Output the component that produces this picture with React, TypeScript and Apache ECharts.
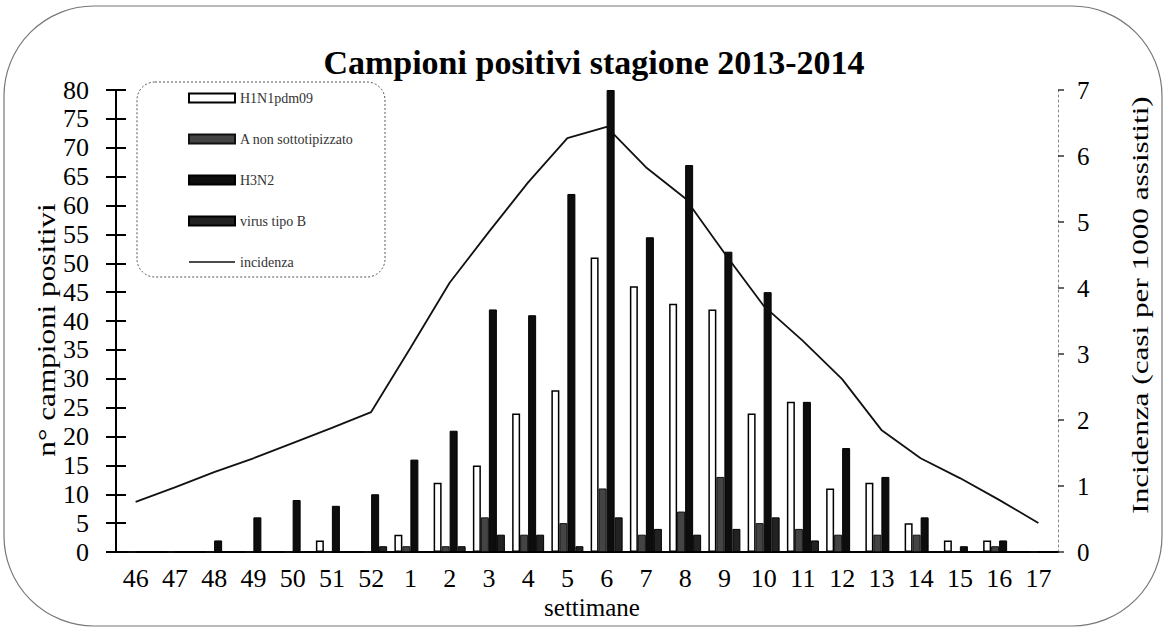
import React, { useEffect, useRef } from "react";
import * as echarts from "echarts";

const weeks = ["46","47","48","49","50","51","52","1","2","3","4","5","6","7","8","9","10","11","12","13","14","15","16","17"];
const h1n1 = [0,0,0,0,0,2,0,3,12,15,24,28,51,46,43,42,24,26,11,12,5,2,2,0];
const aNonSott = [0,0,0,0,0,0,0,1,1,6,3,5,11,3,7,13,5,4,3,3,3,0,1,0];
const h3n2 = [0,0,2,6,9,8,10,16,21,42,41,62,80,54.5,67,52,45,26,18,13,6,1,2,0];
const virusB = [0,0,0,0,0,0,1,0,1,3,3,1,6,4,3,4,6,2,0,0,0,0,0,0];
const incidenza = [0.76,0.98,1.21,1.42,1.65,1.88,2.12,3.09,4.08,4.85,5.6,6.27,6.44,5.83,5.36,4.53,3.73,3.2,2.62,1.85,1.42,1.12,0.79,0.44];

const seriesNames = ["H1N1pdm09", "A non sottotipizzato", "H3N2", "virus tipo B", "incidenza"];
const leftAxis = { min: 0, max: 80, interval: 5 };
const rightAxis = { min: 0, max: 7, interval: 1 };

const SERIF = "Liberation Serif";

export default function App() {
  const ref = useRef<HTMLDivElement>(null);
  useEffect(() => {
    if (!ref.current) return;
    const chart = echarts.init(ref.current, undefined, { renderer: "svg" });
    const barBase = { type: "bar", xAxisIndex: 0, yAxisIndex: 0, barWidth: 8, barGap: "0%" };
    chart.setOption({
      animation: false,
      backgroundColor: "#fff",
      textStyle: { fontFamily: SERIF },
      grid: { left: 116, right: 109, top: 90, bottom: 81 },
      legend: {
        orient: "vertical",
        left: 183,
        top: 86,
        itemWidth: 46,
        itemHeight: 9,
        itemGap: 27,
        textStyle: { fontFamily: SERIF, fontSize: 14, color: "#333" },
        data: [
          { name: seriesNames[0], icon: "rect" },
          { name: seriesNames[1], icon: "rect" },
          { name: seriesNames[2], icon: "rect" },
          { name: seriesNames[3], icon: "rect" },
          { name: seriesNames[4], icon: "path://M0,0 L46,0 L46,1.6 L0,1.6 Z" },
        ],
      },
      xAxis: [
        {
          type: "category",
          data: weeks,
          position: "bottom",
          axisLine: { lineStyle: { color: "#000", width: 2 } },
          axisTick: { length: 10, lineStyle: { color: "#000", width: 2 } },
          axisLabel: { fontFamily: SERIF, fontSize: 26, color: "#000", margin: 13, interval: 0 },
        },
        {
          type: "category",
          data: weeks,
          position: "bottom",
          axisLine: { show: false },
          axisTick: { inside: true, length: 9, lineStyle: { color: "#000", width: 2 } },
          axisLabel: { show: false },
        },
      ],
      yAxis: [
        {
          type: "value",
          position: "left",
          ...leftAxis,
          axisLine: { show: true, lineStyle: { color: "#000", width: 2 } },
          axisTick: { show: true, length: 10, lineStyle: { color: "#000", width: 2 } },
          axisLabel: { fontFamily: SERIF, fontSize: 26, color: "#000", margin: 27 },
          splitLine: { show: false },
        },
        {
          type: "value",
          position: "left",
          ...leftAxis,
          axisLine: { show: false },
          axisTick: { show: true, inside: true, length: 10, lineStyle: { color: "#000", width: 2 } },
          axisLabel: { show: false },
          splitLine: { show: false },
        },
        {
          type: "value",
          position: "right",
          ...rightAxis,
          axisLine: { show: true, lineStyle: { color: "#888", width: 1, type: [2, 3] } },
          axisTick: { show: true, length: 6, lineStyle: { color: "#333", width: 1.5 } },
          axisLabel: { fontFamily: SERIF, fontSize: 25, color: "#000", margin: 19 },
          splitLine: { show: false },
        },
      ],
      series: [
        { ...barBase, name: seriesNames[0], data: h1n1, itemStyle: { color: "#fff", borderColor: "#000", borderWidth: 1.5 } },
        { ...barBase, name: seriesNames[1], data: aNonSott, itemStyle: { color: "#444", borderColor: "#111", borderWidth: 1 } },
        { ...barBase, name: seriesNames[2], data: h3n2, itemStyle: { color: "#0d0d0d", borderColor: "#000", borderWidth: 1 } },
        { ...barBase, name: seriesNames[3], data: virusB, itemStyle: { color: "#222", borderColor: "#000", borderWidth: 1 } },
        {
          type: "line",
          name: seriesNames[4],
          xAxisIndex: 0,
          yAxisIndex: 2,
          data: incidenza,
          symbol: "none",
          lineStyle: { color: "#111", width: 1.8 },
          itemStyle: { color: "#111" },
        },
      ],
      graphic: [
        {
          type: "rect",
          shape: { x: 4, y: 6, width: 1158, height: 620, r: 90 },
          style: { fill: "none", stroke: "#777", lineWidth: 1.2 },
          silent: true,
        },
        {
          type: "rect",
          shape: { x: 137, y: 82, width: 248, height: 195, r: 18 },
          style: { fill: "none", stroke: "#555", lineWidth: 1, lineDash: [2, 2] },
          silent: true,
        },
        {
          type: "text",
          x: 594,
          y: 62,
          style: { text: "Campioni positivi stagione 2013-2014", fontFamily: SERIF, fontWeight: "bold", fontSize: 34, fill: "#000", align: "center", verticalAlign: "middle" },
        },
        {
          type: "text",
          x: 46,
          y: 330,
          rotation: Math.PI / 2,
          scaleX: 1.2,
          style: { text: "n° campioni positivi", fontFamily: SERIF, fontSize: 26, fill: "#000", align: "center", verticalAlign: "middle" },
        },
        {
          type: "text",
          x: 1140,
          y: 305,
          rotation: Math.PI / 2,
          scaleX: 1.3,
          style: { text: "Incidenza (casi per 1000 assistiti)", fontFamily: SERIF, fontSize: 24, fill: "#000", align: "center", verticalAlign: "middle" },
        },
        {
          type: "text",
          x: 592,
          y: 607,
          style: { text: "settimane", fontFamily: SERIF, fontSize: 25, fill: "#000", align: "center", verticalAlign: "middle" },
        },
      ],
    });
    return () => chart.dispose();
  }, []);
  return <div ref={ref} style={{ position: "absolute", left: 0, top: 0, width: 1167, height: 633 }} />;
}
